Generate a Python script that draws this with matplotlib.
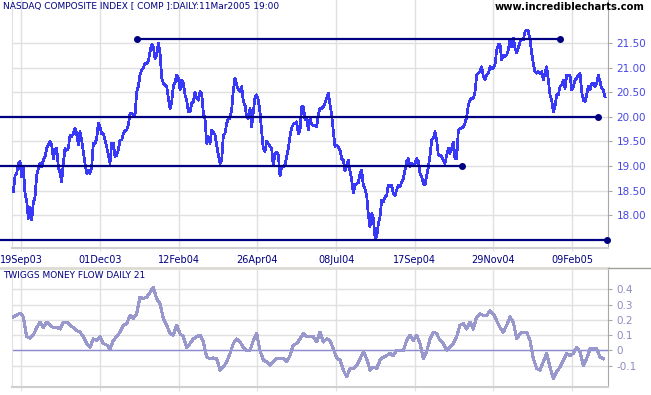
import matplotlib
matplotlib.use("Agg")
import matplotlib.pyplot as plt
from matplotlib.lines import Line2D
import numpy as np

W, H = 651, 395

# NASDAQ composite (index / 100), one value per ~1 trading day
price = [
    18.47, 18.80, 18.85, 19.05, 19.09, 18.78, 18.98, 18.44, 18.30, 17.93,
    18.15, 17.90, 18.25, 18.37, 18.81, 18.95, 19.05, 18.98, 19.12, 19.19,
    19.36, 19.43, 19.50, 19.43, 19.15, 19.32, 19.36, 18.98, 18.85, 18.68,
    19.05, 19.36, 19.32, 19.36, 19.63, 19.60, 19.66, 19.77, 19.66, 19.43,
    19.70, 19.53, 19.29, 19.05, 18.85, 18.91, 18.85, 18.98, 19.46, 19.46,
    19.56, 19.87, 19.80, 19.66, 19.66, 19.53, 19.39, 19.22, 19.05, 19.46,
    19.46, 19.19, 19.22, 19.32, 19.53, 19.53, 19.66, 19.73, 19.73, 19.83,
    20.07, 20.07, 20.04, 20.04, 20.50, 20.62, 20.85, 20.95, 21.00, 21.09,
    21.09, 21.13, 21.33, 21.47, 21.43, 21.19, 21.26, 21.50, 21.30, 20.80,
    20.68, 20.65, 20.62, 20.40, 20.17, 20.30, 20.62, 20.70, 20.85, 20.79,
    20.55, 20.75, 20.68, 20.45, 20.34, 20.10, 20.10, 20.28, 20.31, 20.51,
    20.38, 20.34, 20.51, 20.48, 20.07, 19.97, 19.46, 19.60,
    19.46, 19.73, 19.70, 19.63, 19.43, 19.22, 19.05, 19.12, 19.63, 19.66,
    19.87, 19.97, 19.97, 20.14, 20.55, 20.79, 20.65, 20.55, 20.51, 20.62,
    20.31, 20.24, 20.00, 19.97, 20.17, 19.80, 20.10, 20.40, 20.45, 20.34,
    20.10, 19.70, 19.35, 19.30, 19.50, 19.45, 19.40, 19.36, 19.00, 19.26,
    19.28, 19.22, 18.80, 18.98, 18.98, 19.02, 19.19, 19.35, 19.60, 19.78,
    19.85, 19.87, 19.90, 19.65, 19.72, 20.21, 20.21, 19.95, 20.00, 19.73,
    19.97, 19.85, 19.83, 19.83, 19.80, 20.04, 20.17, 20.17, 20.21, 20.28,
    20.38, 20.48, 20.25, 20.05, 19.70, 19.40, 19.43, 19.39, 19.32, 19.15,
    19.12, 18.90, 19.02, 19.12, 18.90, 18.72, 18.45, 18.62, 18.64, 18.66,
    18.85, 18.91, 18.60, 18.54, 18.40, 18.00, 17.76, 18.03, 17.93, 17.55,
    17.55, 17.83, 17.96, 18.30, 18.27, 18.37, 18.40, 18.61, 18.57, 18.61,
    18.44, 18.40, 18.51, 18.61, 18.57, 18.68, 18.74, 18.91, 19.09, 19.15,
    18.98, 19.05, 19.02, 19.05, 19.15, 19.10, 18.85, 18.78, 18.64, 18.62,
    18.80, 18.98, 19.20, 19.53, 19.56, 19.70, 19.53, 19.22, 19.22, 19.19,
    19.12, 19.05, 19.22, 19.36, 19.26, 19.36, 19.49, 19.15, 19.15, 19.73,
    19.77, 19.77, 19.80, 19.87, 20.00, 20.24, 20.34, 20.38, 20.38, 20.51,
    20.85, 20.89, 20.92, 21.02, 20.82, 20.75, 20.85, 20.89, 21.02, 20.99,
    20.99, 21.06, 21.36, 21.47, 21.47, 21.16, 21.26, 21.23, 21.26, 21.36,
    21.57, 21.43, 21.60, 21.40, 21.30, 21.40, 21.53, 21.57, 21.57, 21.74,
    21.77, 21.74, 21.57, 21.30, 21.09, 20.92, 20.89, 20.92, 20.89, 20.92,
    20.75, 20.89, 21.02, 20.75, 20.45, 20.34, 20.10, 20.21, 20.45, 20.45,
    20.62, 20.65, 20.75, 20.58, 20.85, 20.85, 20.85, 20.55, 20.62, 20.75,
    20.79, 20.85, 20.89, 20.51, 20.34, 20.31, 20.45, 20.62, 20.55, 20.68,
    20.68, 20.62, 20.68, 20.85, 20.72, 20.58, 20.55, 20.41,
]

# Twiggs money flow 21, one value per two price values
mflow = [
    0.22, 0.23, 0.245, 0.22, 0.09, 0.08, 0.10, 0.15, 0.185, 0.15,
    0.185, 0.165, 0.15, 0.15, 0.14, 0.185, 0.185, 0.165, 0.15, 0.13,
    0.12, 0.09, 0.045, 0.02, 0.075, 0.065, 0.09, 0.045, 0.035, 0.01,
    0.065, 0.09, 0.12, 0.165, 0.175, 0.23, 0.21, 0.24, 0.35, 0.34,
    0.35, 0.38, 0.415, 0.34, 0.305, 0.21, 0.165, 0.11, 0.10, 0.165,
    0.11, 0.09, 0.02, 0.045, 0.075, 0.09, 0.10, 0.055, -0.045,
    -0.055, -0.05, -0.055, -0.13, -0.11, -0.075, -0.02, 0.045, 0.075, 0.055,
    0.02, 0.0, 0.0, 0.065, 0.11, 0.0, -0.065, -0.075, -0.10, -0.075,
    -0.055, -0.055, -0.055, -0.075, -0.035, 0.035, 0.045, 0.075, 0.11, 0.09,
    0.09, 0.09, 0.055, 0.12, 0.055, 0.075, 0.065, 0.01, -0.05, -0.065,
    -0.13, -0.175, -0.12, -0.12, -0.10, -0.055, -0.01, -0.055, -0.13, -0.11,
    -0.12, -0.065, -0.045, -0.035, -0.02, -0.035, 0.0, 0.0, 0.0, 0.065,
    0.10, 0.065, 0.10, 0.045, -0.055, -0.01, 0.075, 0.12, 0.11, 0.065,
    0.045, 0.0, 0.02, 0.045, 0.09, 0.165, 0.175, 0.14, 0.185, 0.14,
    0.22, 0.24, 0.23, 0.23, 0.26, 0.24, 0.195, 0.15, 0.12, 0.165,
    0.22, 0.185, 0.075, 0.11, 0.12, 0.12, 0.065, -0.055, -0.12, -0.13,
    -0.075, -0.02, -0.11, -0.185, -0.14, -0.11, -0.065, -0.02, -0.035, -0.02,
    0.02, -0.01, -0.10, -0.055, 0.01, 0.01, 0.01, -0.045, -0.055,
]

date_pos = [4.8, 51.8, 99.2, 146.2, 193.8, 240.8, 288.0, 335.4]
date_labels = ["19Sep03", "01Dec03", "12Feb04", "26Apr04",
               "08Jul04", "17Sep04", "29Nov04", "09Feb05"]
price_ticks = [18.0, 18.5, 19.0, 19.5, 20.0, 20.5, 21.0, 21.5]
mf_ticks = [-0.1, 0.0, 0.1, 0.2, 0.3, 0.4]
mf_labels = ["-0.1", "0", "0.1", "0.2", "0.3", "0.4"]

# support / resistance lines: level, start bar, end bar, dot at start
levels = [21.58, 20.0, 19.0, 17.5]
lvl_start = [74.2, -8.0, -8.0, -8.0]
lvl_end = [328.0, 351.0, 269.4, 356.3]
lvl_start_dot = [True, False, False, False]

NAVY = "#000080"
GRID = "#e0e0e0"

fig = plt.figure(figsize=(W / 100, H / 100), dpi=100)
fig.patch.set_facecolor("white")

ax1 = fig.add_axes([12 / W, (H - 248) / H, 596 / W, 248 / H])
ax2 = fig.add_axes([12 / W, (H - 387) / H, 596 / W, 117 / H])

x_price = np.arange(len(price))
x_mf = 2 * np.arange(len(mflow))

for ax in (ax1, ax2):
    ax.set_xlim(-0.8, 356.8)
    ax.set_xticks(date_pos)
    ax.yaxis.tick_right()
    ax.grid(True, color=GRID, lw=1.0)
    ax.set_axisbelow(True)
    ax.spines["top"].set_visible(False)
    ax.spines["left"].set_color(GRID)
    ax.spines["right"].set_color("#a8a8a8")
    ax.spines["bottom"].set_color("#cfcfcf")
    ax.spines["bottom"].set_linewidth(1.5)
    ax.tick_params(axis="y", length=3, color="#a8a8a8", pad=3, labelsize=7.5)
    ax.tick_params(axis="x", length=2, color=GRID)

# price panel
ax1.set_ylim(17.33, 22.38)
ax1.set_yticks(price_ticks)
ax1.set_yticklabels(["%.2f" % v for v in price_ticks], color="#4646e6")
ax1.set_xticklabels(date_labels, fontsize=7, color=NAVY)
ax1.tick_params(axis="x", pad=3)
ax1.plot(x_price, price, color="#3838f8", lw=1.25, zorder=3, antialiased=False)

for lv, s, e, sd in zip(levels, lvl_start, lvl_end, lvl_start_dot):
    ax1.plot([s, e], [lv, lv], color=NAVY, lw=1.6, clip_on=False, zorder=4)
    ax1.plot([e], [lv], "o", color=NAVY, ms=4, clip_on=False, zorder=5)
    if sd:
        ax1.plot([s], [lv], "o", color=NAVY, ms=4, clip_on=False, zorder=5)

# money flow panel
ax2.set_ylim(-0.241, 0.528)
ax2.set_yticks(mf_ticks)
ax2.set_yticklabels(mf_labels, color="#8c8cc0")
ax2.set_xticklabels([])
ax2.tick_params(axis="x", length=3)
ax2.axhline(0, color="#8c8cd0", lw=1.0, zorder=2)
ax2.plot(x_mf, mflow, color="#9898cc", lw=1.5, zorder=3, antialiased=False)

# frame line between panels
fig.add_artist(Line2D([0, 608 / W], [1 - 268 / H] * 2, color="#dcdcd4", lw=2))
fig.add_artist(Line2D([608 / W, 1], [1 - 268 / H] * 2, color="#a0a098", lw=1))

fig.text(3 / W, 1 - 7 / H, "NASDAQ COMPOSITE INDEX [ COMP ]:DAILY:11Mar2005 19:00",
         fontsize=6.5, color=NAVY, va="center", ha="left")
fig.text(645 / W, 1 - 7 / H, "www.incrediblecharts.com",
         fontsize=7.2, color="black", fontweight="bold", va="center", ha="right")
fig.text(3 / W, 1 - 276 / H, "TWIGGS MONEY FLOW DAILY 21",
         fontsize=6.5, color=NAVY, va="center", ha="left")

fig.savefig("out.png", dpi=100)
